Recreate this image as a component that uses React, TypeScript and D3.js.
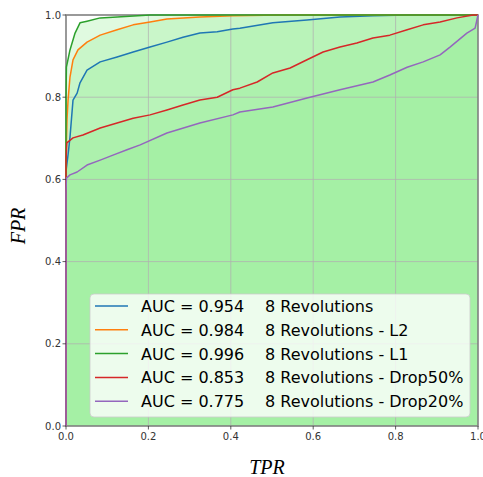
import React from "react";
import * as d3 from "d3";

// ROC curve samples [x, y]
const blueCurve: [number, number][] = [
  [0, 0], [0, 0.62], [0.005, 0.66], [0.0097, 0.703], [0.017, 0.793], [0.027, 0.81], [0.034, 0.835],
  [0.051, 0.866], [0.083, 0.886], [0.124, 0.898], [0.163, 0.91], [0.204, 0.922], [0.245, 0.934],
  [0.284, 0.946], [0.325, 0.956], [0.367, 0.959], [0.405, 0.966], [0.422, 0.968], [0.502, 0.981],
  [0.585, 0.988], [0.665, 0.995], [0.745, 0.998], [0.828, 1.0], [1, 1],
];
const orangeCurve: [number, number][] = [
  [0, 0], [0, 0.66], [0.001, 0.689], [0.0024, 0.745], [0.005, 0.793], [0.0097, 0.849], [0.017, 0.891],
  [0.029, 0.915], [0.051, 0.934], [0.083, 0.951], [0.124, 0.964], [0.163, 0.976], [0.204, 0.983],
  [0.245, 0.99], [0.325, 0.995], [0.405, 0.998], [0.52, 1.0], [1, 1],
];
const greenCurve: [number, number][] = [
  [0, 0], [0, 0.8], [0.001, 0.873], [0.0097, 0.915], [0.022, 0.956], [0.034, 0.981], [0.051, 0.985],
  [0.083, 0.993], [0.124, 0.995], [0.204, 1.0], [1, 1],
];
const redCurve: [number, number][] = [
  [0, 0], [0, 0.647], [0.002, 0.689], [0.017, 0.701], [0.041, 0.708], [0.083, 0.725], [0.124, 0.737],
  [0.163, 0.749], [0.204, 0.757], [0.245, 0.769], [0.284, 0.781], [0.325, 0.793], [0.367, 0.8],
  [0.405, 0.818], [0.422, 0.822], [0.464, 0.837], [0.502, 0.859], [0.544, 0.871], [0.585, 0.891],
  [0.624, 0.91], [0.665, 0.922], [0.706, 0.932], [0.745, 0.944], [0.786, 0.951], [0.828, 0.964],
  [0.867, 0.976], [0.908, 0.983], [0.949, 0.993], [0.988, 1.0], [1, 1],
];
const purpleCurve: [number, number][] = [
  [0, 0], [0, 0.567], [0.001, 0.603], [0.0097, 0.611], [0.027, 0.618], [0.051, 0.635], [0.083, 0.647],
  [0.114, 0.659], [0.148, 0.672], [0.18, 0.684], [0.245, 0.713], [0.325, 0.737], [0.405, 0.757],
  [0.422, 0.764], [0.502, 0.776], [0.585, 0.798], [0.665, 0.818], [0.745, 0.837], [0.786, 0.854],
  [0.828, 0.873], [0.867, 0.886], [0.908, 0.903], [0.932, 0.922], [0.973, 0.956], [0.993, 0.968],
  [1.0, 1.0],
];

const aucLabels = ["AUC = 0.954", "AUC = 0.984", "AUC = 0.996", "AUC = 0.853", "AUC = 0.775"];
const modelNames = [
  "8 Revolutions",
  "8 Revolutions - L2",
  "8 Revolutions - L1",
  "8 Revolutions - Drop50%",
  "8 Revolutions - Drop20%",
];
const seriesColors = ["#1f77b4", "#ff7f0e", "#2ca02c", "#d62728", "#9467bd"];
const curves = [blueCurve, orangeCurve, greenCurve, redCurve, purpleCurve];
const ticks = [0, 0.2, 0.4, 0.6, 0.8, 1.0];

export default function App() {
  const W = 483, H = 477;
  const x = d3.scaleLinear().domain([0, 1]).range([66, 478]);
  const y = d3.scaleLinear().domain([0, 1]).range([426, 15]);
  const line = d3.line<[number, number]>().x((d) => x(d[0])).y((d) => y(d[1]));
  const area = d3
    .area<[number, number]>()
    .x((d) => x(d[0]))
    .y0(y(0))
    .y1((d) => y(d[1]));
  const font = "DejaVu Sans, sans-serif";

  return (
    <svg width={W} height={H} style={{ position: "absolute", left: 0, top: 0, background: "#fff" }}>
      <defs>
        <clipPath id="plotclip">
          <rect x={x(0)} y={y(1) - 1} width={x(1) - x(0)} height={y(0) - y(1) + 2} />
        </clipPath>
      </defs>
      {/* fills */}
      <g clipPath="url(#plotclip)">
        {curves.map((c, i) => (
          <path key={"f" + i} d={area(c) || ""} fill="#90ee90" fillOpacity={0.28} stroke="none" />
        ))}
      </g>
      {/* grid */}
      <g>
        {ticks.slice(1, 5).map((t) => (
          <g key={"g" + t}>
            <line x1={x(t)} x2={x(t)} y1={y(0)} y2={y(1)} stroke="#b0b0b0" strokeOpacity={0.75} strokeWidth={1} />
            <line x1={x(0)} x2={x(1)} y1={y(t)} y2={y(t)} stroke="#b0b0b0" strokeOpacity={0.75} strokeWidth={1} />
          </g>
        ))}
      </g>
      {/* spines */}
      <rect x={x(0)} y={y(1)} width={x(1) - x(0)} height={y(0) - y(1)} fill="none" stroke="#808080" strokeWidth={1.6} />
      {/* lines */}
      <g>
        {curves.map((c, i) => (
          <path key={"l" + i} d={line(c) || ""} fill="none" stroke={seriesColors[i]} strokeWidth={1.5} strokeLinejoin="round" />
        ))}
      </g>
      {/* ticks */}
      <g fontFamily={font} fontSize={10} fill="#333">
        {ticks.map((t) => (
          <g key={"xt" + t}>
            <line x1={x(t)} x2={x(t)} y1={y(0)} y2={y(0) + 3.5} stroke="#333" strokeWidth={0.8} />
            <text x={x(t)} y={y(0) + 14} textAnchor="middle">{t.toFixed(1)}</text>
            <line x1={x(0) - 3.5} x2={x(0)} y1={y(t)} y2={y(t)} stroke="#333" strokeWidth={0.8} />
            <text x={x(0) - 5} y={y(t) + 3.5} textAnchor="end">{t.toFixed(1)}</text>
          </g>
        ))}
      </g>
      {/* axis labels */}
      <text x={267} y={474} textAnchor="middle" fontFamily="Liberation Serif, serif" fontStyle="italic" fontSize={20} fill="#000">
        TPR
      </text>
      <text
        transform="translate(25,226) rotate(-90)"
        textAnchor="middle"
        fontFamily="Liberation Serif, serif"
        fontStyle="italic"
        fontSize={20}
        fill="#000"
      >
        FPR
      </text>
      {/* legend */}
      <g>
        <rect x={90} y={294} width={380} height={123} rx={4} fill="#fff" fillOpacity={0.8} stroke="#cccccc" strokeOpacity={0.8} />
        {aucLabels.map((a, i) => {
          const ry = 306 + i * 23.8;
          return (
            <g key={"lg" + i}>
              <line x1={95} x2={128} y1={ry} y2={ry} stroke={seriesColors[i]} strokeWidth={1.5} />
              <text x={141} y={ry + 6} fontFamily={font} fontSize={16} fill="#000">{a}</text>
              <text x={265} y={ry + 6} fontFamily={font} fontSize={16} fill="#000">{modelNames[i]}</text>
            </g>
          );
        })}
      </g>
    </svg>
  );
}
